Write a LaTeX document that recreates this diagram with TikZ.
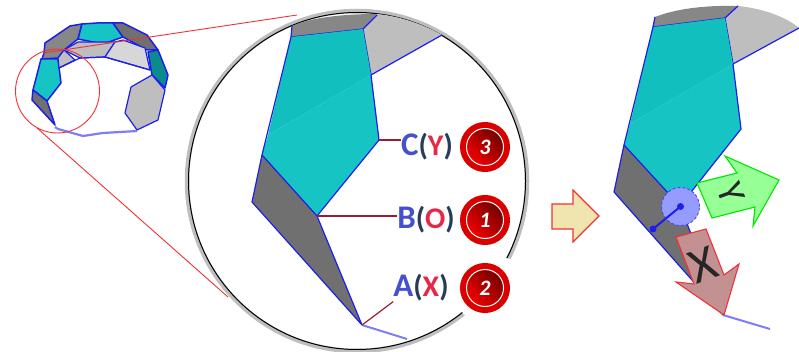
\documentclass[tikz,border=0pt]{standalone}
\usepackage{fontspec}
\setmainfont{Carlito}
\definecolor{edgeblue}{RGB}{30,30,235}
\definecolor{paleblue}{RGB}{125,125,250}
\definecolor{tealA}{RGB}{22,196,196}
\definecolor{tealB}{RGB}{18,191,191}
\definecolor{tealC}{RGB}{10,140,140}
\definecolor{grayA}{RGB}{112,112,112}
\definecolor{grayB}{RGB}{135,135,135}
\definecolor{grayC}{RGB}{190,190,190}
\definecolor{grayD}{RGB}{215,215,215}
\definecolor{leadred}{RGB}{150,30,50}
\definecolor{letterblue}{RGB}{70,80,205}
\definecolor{letterred}{RGB}{230,40,70}
\definecolor{parennavy}{RGB}{40,60,90}
\definecolor{edgered}{RGB}{240,50,55}
\tikzset{
  face/.style={draw=edgeblue, line width=#1, line join=round},
  face/.default=1.2,
  lead/.style={draw=leadred, line width=1.2},
  zoomline/.style={draw=edgered, line width=0.9},
  tag/.style={font=\bfseries\fontsize{33}{33}\selectfont, inner sep=0pt},
  badge/.style={circle, minimum size=37pt, inner sep=0pt, outer sep=0pt, draw=white, line width=1,
    left color=red!45!black, right color=red!95!black, shading angle=-45, text=white,
    preaction={draw=red!85!black, line width=13pt},
    font=\bfseries\itshape\fontsize{22}{22}\selectfont},
  flatarrow/.style={draw=#1, line width=1.1, line join=miter}
}
\newcommand{\tagtext}[2]{\textcolor{letterblue}{#1}\textcolor{parennavy}{\fontsize{30}{30}\selectfont(}\textcolor{letterred}{\fontsize{30}{30}\selectfont#2}\textcolor{parennavy}{\fontsize{30}{30}\selectfont)}}

\begin{document}
\begin{tikzpicture}[x=1pt, y=-1pt]
  \useasboundingbox (0,0) rectangle (799,352);

  % small view
  \filldraw[face=1.5, fill=grayB] (44,53) -- (45,43) -- (70,26) -- (82,24) -- (78,39) -- (64,50) -- (58,58) -- (42,59) -- cycle;
  \filldraw[face=1.5, fill=tealA] (82,24) -- (97,23) -- (113,23) -- (123,37) -- (103,44) -- (78,39) -- cycle;
  \filldraw[face=1.5, fill=grayA] (113,23) -- (123,23) -- (147,35) -- (158,50) -- (147,50) -- (123,37) -- cycle;
  \filldraw[face=1.2, fill=grayC] (78,42) -- (115,42) -- (105,57) -- (80,58) -- (64,50) -- cycle;
  \filldraw[face=1.2, fill=grayD] (115,42) -- (123,40) -- (145,48) -- (150,70) -- (105,57) -- cycle;
  \filldraw[face=1.5, fill=tealC] (148,52) -- (158,50) -- (168,75) -- (165,88) -- (152,75) -- cycle;
  \filldraw[face=1.2, fill=grayC] (152,75) -- (165,90) -- (158,120) -- (137,130) -- (125,113) -- (131,87) -- cycle;
  \filldraw[face=1.5, fill=tealA] (41,59) -- (58,59) -- (61,83) -- (47,101) -- (33,90) -- cycle;
  \filldraw[face=1.5, fill=grayA] (33,90) -- (47,101) -- (55,125) -- (32,100) -- cycle;
  \filldraw[face=1.2, fill=grayC] (58,58) -- (64,50) -- (75,60) -- (59,68) -- cycle;
  \draw[face] (59,68) -- (80,58) -- (105,57) -- (150,70);
  \draw[draw=paleblue, line width=2.2] (55,127) -- (58,129) -- (83,136) -- (103,133) -- (137,131);

  % zoom marks
  \draw[zoomline] (57.5,91) circle[radius=42pt];
  \coordinate (ZoomTopA) at (43,53);
  \coordinate (ZoomTopB) at (297,15);
  \coordinate (ZoomLowA) at (37,128);
  \coordinate (ZoomLowB) at (228,297);
  \draw[zoomline] (ZoomTopA) -- (ZoomTopB);
  \draw[zoomline] (ZoomLowA) -- (ZoomLowB);

  % big circle
  \coordinate (Lens) at (357,181);
  \draw[draw=grayC, line width=4.5] (Lens) circle[radius=170pt];
  \draw[draw=black, line width=1] (Lens) circle[radius=168.5pt];
  \fill[white] (505,258) -- (530,262) -- (490,325) -- (463,314) -- (460,305) -- cycle;

  % zoomed faces
  \coordinate (Mc) at (379,140);
  \coordinate (Mb) at (317,216);
  \coordinate (Ma) at (362,325);
  \coordinate (Md) at (262,155);
  \coordinate (Me) at (252,202);
  \coordinate (Mf) at (291,37);
  \coordinate (Mg) at (363,29);
  \coordinate (Mh) at (371,75);
  \fill[grayB] (Mf) -- (292,26) .. controls (310,18) and (340,14) .. (377,14) -- (Mg) -- cycle;
  \fill[grayC] (377,14) .. controls (400,16) and (425,25) .. (442,35) -- (Mh) -- (Mg) -- cycle;
  \draw[face] (292,26) -- (Mf) -- (Mg) -- (377,15);
  \draw[face] (442,35) -- (Mh) -- (Mg);
  \fill[tealA] (Mh) -- (Mc) -- (Mb) -- (Md) -- (268,135) -- cycle;
  \fill[tealB] (Mf) -- (Mg) -- (Mh) -- (268,135) -- cycle;
  \filldraw[face, fill=grayA] (Md) -- (Mb) -- (Ma) -- (Me) -- cycle;
  \draw[face] (Mf) -- (Md) (Mh) -- (Mc) -- (Mb);
  \draw[draw=paleblue, line width=2] (Ma) -- (407,339);

  % labels
  \node[tag] (labC) at (427,147) {\tagtext{C}{Y}};
  \node[tag] (labB) at (426,220) {\tagtext{B}{O}};
  \node[tag] (labA) at (421,288) {\tagtext{A}{X}};
  \draw[lead] (Mc) -- (Mc -| labC.west);
  \draw[lead] (Mb) -- (Mb -| labB.west);
  \draw[lead] (Ma) -- (labA.south west);
  \node[badge] (badC) at (485,147) {3};
  \node[badge] (badB) at (485,220) {1};
  \node[badge] (badA) at (485,288) {2};

  % step arrow
  \filldraw[flatarrow=edgered, fill={rgb,255:red,240;green,228;blue,175}] (552,204) -- (573,204) -- (573,190) -- (599,216) -- (573,242) -- (573,229) -- (552,229) -- cycle;

  % right faces
  \coordinate (Rc) at (741,129);
  \coordinate (Rb) at (680,206);
  \coordinate (Ra) at (723,315);
  \coordinate (Rd) at (624,145);
  \coordinate (Re) at (614,192);
  \coordinate (Rf) at (653,27);
  \coordinate (Rg) at (725,18);
  \coordinate (Rh) at (733,64);
  \fill[grayB] (Rf) -- (655,17) .. controls (675,9) and (705,5) .. (738,6) -- (Rg) -- cycle;
  \fill[grayC] (738,6) .. controls (760,8) and (785,16) .. (799,28) -- (Rh) -- (Rg) -- cycle;
  \draw[face] (655,17) -- (Rf) -- (Rg) -- (738,6);
  \draw[face] (799,28) -- (Rh) -- (Rg);
  \fill[tealA] (Rh) -- (Rc) -- (Rb) -- (Rd) -- (630,124) -- cycle;
  \fill[tealB] (Rf) -- (Rg) -- (Rh) -- (630,124) -- cycle;
  \filldraw[face, fill=grayA] (Rd) -- (Rb) -- (Ra) -- (Re) -- cycle;
  \draw[face] (Rf) -- (Rd) (Rh) -- (Rc) -- (Rb);
  \draw[draw=paleblue, line width=2] (Ra) -- (770,329);

  % pivot
  \node[circle, minimum size=38pt, inner sep=0pt, fill={rgb,255:red,150;green,155;blue,255}, draw=edgeblue!85, densely dashed, line width=0.8] (pivot) at (680.5,206.5) {};
  \coordinate (PivotEnd) at (653,229);
  \draw[draw=edgeblue, line width=2] (pivot.center) -- (PivotEnd);
  \fill[edgeblue] (pivot.center) circle[radius=3.5pt];
  \fill[edgeblue] (PivotEnd) circle[radius=3.5pt];

  % direction arrows
  \filldraw[flatarrow=green!90!black, fill={rgb,255:red,150;green,255;blue,150}] (697,183) -- (737,173) -- (725,156) -- (779,180) -- (753,226) -- (755,207) -- (712,218) -- cycle;
  \node[font=\fontsize{38}{38}\selectfont, text=black!85, rotate=-70, inner sep=0pt] (markY) at (731,193) {Y};
  \filldraw[flatarrow=edgered, fill={rgb,255:red,195;green,145;blue,145}] (676,237) -- (706,229) -- (724,275) -- (739,264) -- (724,315) -- (676,282) -- (694,284) -- cycle;
  \node[font=\fontsize{50}{50}\selectfont, text=black!85, rotate=20, inner sep=0pt] (markX) at (703,265) {X};
\end{tikzpicture}
\end{document}
